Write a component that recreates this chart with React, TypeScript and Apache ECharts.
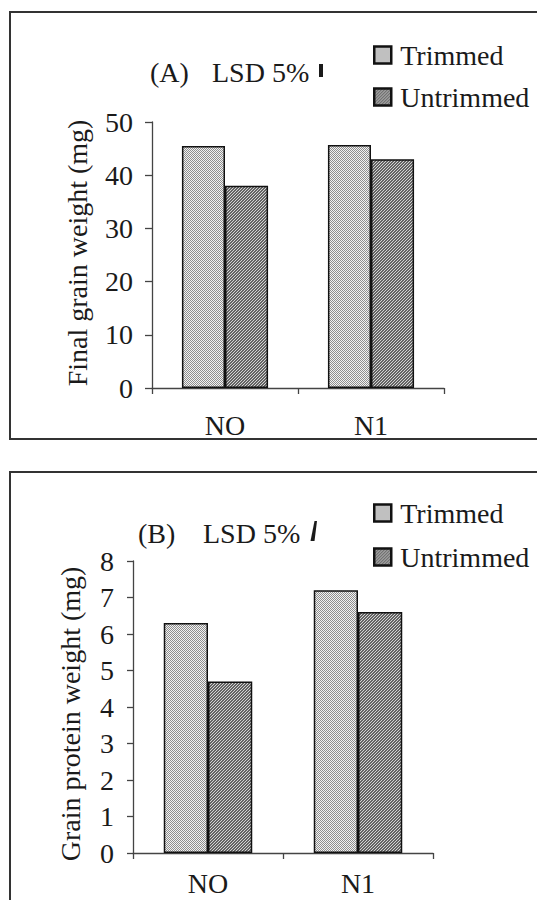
import React, { useEffect, useRef } from "react";
import * as echarts from "echarts";

// Nitrogen treatments on the category axis
const categories = ["NO", "N1"];
const seriesNames = ["Trimmed", "Untrimmed"];

// (A) final grain weight, mg
const grainTrimmed = [45.5, 45.7];
const grainUntrimmed = [38.0, 43.0];
const grainMax = 50;
const grainStep = 10;

// (B) grain protein weight, mg
const proteinTrimmed = [6.3, 7.2];
const proteinUntrimmed = [4.7, 6.6];
const proteinMax = 8;
const proteinStep = 1;

const FONT = "'Liberation Serif', 'Times New Roman', serif";
const INK = "#1a1a1a";
const FS = 28;

// Fine stipple fills in the style of a printed bar chart
function makePattern(kind: "light" | "dark") {
  const c = document.createElement("canvas");
  const n = kind === "light" ? 2 : 3;
  c.width = n;
  c.height = n;
  const ctx = c.getContext("2d")!;
  for (let x = 0; x < n; x++) {
    for (let y = 0; y < n; y++) {
      let col: string;
      if (kind === "light") col = (x + y) % 2 === 0 ? "#8e8e8e" : "#f2f2f2";
      else col = (x + y) % 3 === 0 ? "#d4d4d4" : "#646464";
      ctx.fillStyle = col;
      ctx.fillRect(x, y, 1, 1);
    }
  }
  return { image: c, repeat: "repeat" } as any;
}

export default function App() {
  const ref = useRef<HTMLDivElement>(null);

  useEffect(() => {
    if (!ref.current) return;
    const chart = echarts.init(ref.current, undefined, { renderer: "svg" });
    const light = makePattern("light");
    const dark = makePattern("dark");

    const axisLine = { show: true, lineStyle: { color: "#444", width: 1.3 } };
    const tickStyle = { color: "#444", width: 1.3 };
    const labelStyle = { fontFamily: FONT, fontSize: FS, color: INK };

    const barStyle = (fill: any) => ({
      color: fill,
      borderColor: "#111",
      borderWidth: 1.5,
    });

    const legendCommon = {
      orient: "vertical" as const,
      left: 368,
      itemWidth: 17,
      itemHeight: 17,
      icon: "rect",
      data: seriesNames,
      selectedMode: false,
      itemStyle: { borderColor: "#111", borderWidth: 2.5 },
      textStyle: {
        fontFamily: FONT,
        fontSize: FS,
        color: INK,
        lineHeight: 28,
        padding: [0, 0, 0, 4],
      },
    };

    const titleText = (text: string, x: number, y: number) => ({
      type: "text",
      x,
      y,
      style: { text, fontFamily: FONT, fontSize: FS, fill: INK, verticalAlign: "middle" },
    });

    const axisTitle = (text: string, x: number, y: number) => ({
      type: "text",
      x,
      y,
      rotation: Math.PI / 2,
      style: {
        text,
        fontFamily: FONT,
        fontSize: FS,
        fill: INK,
        align: "center",
        verticalAlign: "middle",
      },
    });

    chart.setOption({
      animation: false,
      backgroundColor: "#fff",
      grid: [
        { left: 152, top: 122, width: 292, height: 266 },
        { left: 133, top: 561, width: 300, height: 292 },
      ],
      xAxis: [0, 1].map((i) => ({
        type: "category",
        gridIndex: i,
        data: categories,
        axisLine,
        axisTick: { show: true, length: 6, lineStyle: tickStyle },
        axisLabel: { ...labelStyle, margin: i === 0 ? 23 : 16 },
      })),
      yAxis: [
        {
          type: "value",
          gridIndex: 0,
          min: 0,
          max: grainMax,
          interval: grainStep,
          axisLine,
          axisTick: { show: true, length: 7, lineStyle: tickStyle },
          splitLine: { show: false },
          axisLabel: { ...labelStyle, margin: 19 },
        },
        {
          type: "value",
          gridIndex: 1,
          min: 0,
          max: proteinMax,
          interval: proteinStep,
          axisLine,
          axisTick: { show: true, length: 6, lineStyle: tickStyle },
          splitLine: { show: false },
          axisLabel: { ...labelStyle, margin: 19 },
        },
      ],
      legend: [
        { ...legendCommon, top: 36, itemGap: 14 },
        { ...legendCommon, top: 494, itemGap: 16 },
      ],
      series: [
        {
          name: seriesNames[0],
          type: "bar",
          xAxisIndex: 0,
          yAxisIndex: 0,
          data: grainTrimmed,
          barGap: "0%",
          barCategoryGap: "41%",
          itemStyle: barStyle(light),
        },
        {
          name: seriesNames[1],
          type: "bar",
          xAxisIndex: 0,
          yAxisIndex: 0,
          data: grainUntrimmed,
          barGap: "0%",
          barCategoryGap: "41%",
          itemStyle: barStyle(dark),
        },
        {
          name: seriesNames[0],
          type: "bar",
          xAxisIndex: 1,
          yAxisIndex: 1,
          data: proteinTrimmed,
          barGap: "0%",
          barCategoryGap: "41%",
          itemStyle: barStyle(light),
        },
        {
          name: seriesNames[1],
          type: "bar",
          xAxisIndex: 1,
          yAxisIndex: 1,
          data: proteinUntrimmed,
          barGap: "0%",
          barCategoryGap: "41%",
          itemStyle: barStyle(dark),
        },
      ],
      graphic: [
        // panel frames
        {
          type: "rect",
          shape: { x: 10, y: 12, width: 560, height: 427 },
          style: { fill: "none", stroke: "#333", lineWidth: 2 },
          z: -1,
        },
        {
          type: "rect",
          shape: { x: 10, y: 472, width: 560, height: 460 },
          style: { fill: "none", stroke: "#333", lineWidth: 2 },
          z: -1,
        },
        // axis titles
        axisTitle("Final grain weight (mg)", 77, 253),
        axisTitle("Grain protein weight (mg)", 70, 714),
        // panel labels with LSD bars
        titleText("(A)", 150, 72),
        titleText("LSD 5%", 212, 72),
        {
          type: "rect",
          shape: { x: 319, y: 64, width: 4, height: 13 },
          style: { fill: "#1a1a1a" },
        },
        titleText("(B)", 138, 533),
        titleText("LSD 5%", 203, 533),
        {
          type: "polygon",
          shape: {
            points: [
              [310.5, 541],
              [314.5, 541],
              [317, 521],
              [314.5, 521],
            ],
          },
          style: { fill: "#1a1a1a" },
        },
      ],
    });

    return () => chart.dispose();
  }, []);

  return (
    <div
      ref={ref}
      style={{
        position: "absolute",
        left: 0,
        top: 0,
        width: 537,
        height: 900,
        background: "#fff",
      }}
    />
  );
}
